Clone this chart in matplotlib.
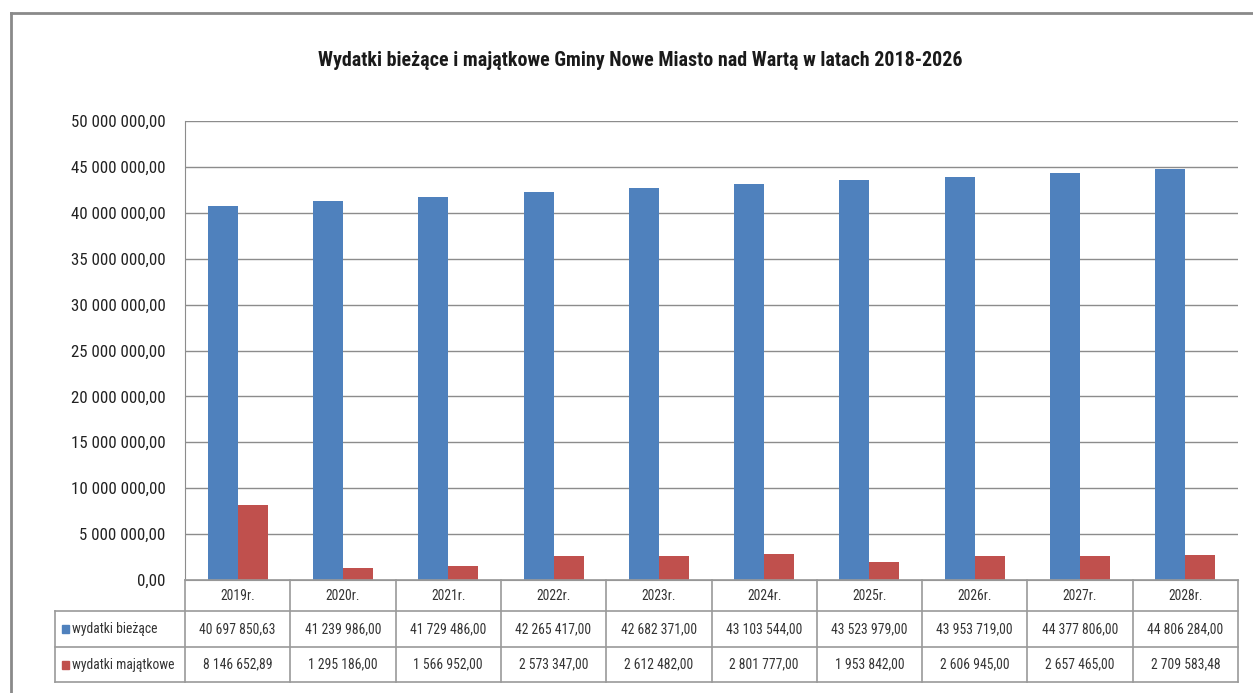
import numpy as np
import matplotlib.pyplot as plt
from matplotlib import font_manager as fm
from matplotlib.lines import Line2D
from matplotlib.patches import Rectangle

years = ['2019r.', '2020r.', '2021r.', '2022r.', '2023r.',
         '2024r.', '2025r.', '2026r.', '2027r.', '2028r.']
biezace = [40697850.63, 41239986.00, 41729486.00, 42265417.00, 42682371.00,
           43103544.00, 43523979.00, 43953719.00, 44377806.00, 44806284.00]
majatkowe = [8146652.89, 1295186.00, 1566952.00, 2573347.00, 2612482.00,
             2801777.00, 1953842.00, 2606945.00, 2657465.00, 2709583.48]
series_names = ['wydatki bieżące', 'wydatki majątkowe']
colors = ['#4F81BD', '#C0504D']
title = 'Wydatki bieżące i majątkowe Gminy Nowe Miasto nad Wartą w latach 2018-2026'

# pick a narrow font if there is one, otherwise Liberation Sans
names = {f.name for f in fm.fontManager.ttflist}
font = 'DejaVu Sans'
for cand in ['Liberation Sans Narrow', 'Roboto Condensed', 'Open Sans Condensed',
             'DejaVu Sans Condensed', 'Liberation Sans']:
    if cand in names:
        font = cand
        break
plt.rcParams['font.family'] = [font, 'DejaVu Sans']

W, H = 1253, 693


def fx(px):
    return px / W


def fy(py):
    return 1 - py / H


def pl(v):
    # polish number format: 1 234 567,89
    return f'{v:,.2f}'.replace(',', ' ').replace('.', ',')


fig = plt.figure(figsize=(W / 100, H / 100), dpi=100)
renderer = fig.canvas.get_renderer()


def fit_size(s, target_px, weight='normal'):
    # font size that makes string s about target_px wide
    t = fig.text(0, 0, s, fontsize=10, fontweight=weight)
    w = t.get_window_extent(renderer).width
    t.remove()
    return 10 * target_px / w


title_fs = fit_size(title, 644, 'bold')
tick_fs = fit_size('50 000 000,00', 93)
tab_fs = fit_size('40 697 850,63', 76)

left, right, top, bottom = 185, 1238, 121, 580
ax = fig.add_axes([fx(left), fy(bottom), fx(right - left), (bottom - top) / H])

x = np.arange(len(years))
bw = 0.285
ax.bar(x - bw / 2, biezace, bw, color=colors[0], zorder=3)
ax.bar(x + bw / 2, majatkowe, bw, color=colors[1], zorder=3)

ax.set_xlim(-0.5, len(years) - 0.5)
ax.set_ylim(0, 50000000)
yt = np.arange(0, 50000001, 5000000)
ax.set_yticks(yt)
ax.set_yticklabels([pl(v) for v in yt], fontsize=tick_fs, color='#222222')
ax.set_xticks([])
ax.yaxis.grid(True, color='#8c8c8c', lw=1)
ax.set_axisbelow(True)
for s in ['top', 'right']:
    ax.spines[s].set_visible(False)
for s in ['left', 'bottom']:
    ax.spines[s].set_color('#8c8c8c')
ax.tick_params(axis='y', length=0, pad=14)

fig.text(fx(640), fy(60), title, ha='center', va='center',
         fontsize=title_fs, fontweight='bold', color='#1a1a1a')

# outer frame
lc = '#8a8a8a'
fig.add_artist(Line2D([fx(11), fx(11)], [fy(13), 0], color=lc, lw=2))
fig.add_artist(Line2D([fx(11), 1], [fy(13), fy(13)], color=lc, lw=2))

# data table under the plot
tc = '#9a9a9a'
rows = [580, 611, 647, 682]
lab_left = 55
colw = (right - left) / len(years)
for i, r in enumerate(rows):
    x0 = left if i == 0 else lab_left
    fig.add_artist(Line2D([fx(x0), fx(right)], [fy(r), fy(r)], color=tc, lw=1.2))
for k in range(len(years) + 1):
    cx = left + k * colw
    fig.add_artist(Line2D([fx(cx), fx(cx)], [fy(rows[0]), fy(rows[-1])], color=tc, lw=1.2))
fig.add_artist(Line2D([fx(lab_left), fx(lab_left)], [fy(rows[1]), fy(rows[-1])], color=tc, lw=1.2))

for k, yr in enumerate(years):
    cx = left + (k + 0.5) * colw
    fig.text(fx(cx), fy((rows[0] + rows[1]) / 2), yr, ha='center', va='center',
             fontsize=tab_fs, color='#333333')
    fig.text(fx(cx), fy((rows[1] + rows[2]) / 2), pl(biezace[k]), ha='center', va='center',
             fontsize=tab_fs, color='#333333')
    fig.text(fx(cx), fy((rows[2] + rows[3]) / 2), pl(majatkowe[k]), ha='center', va='center',
             fontsize=tab_fs, color='#333333')

for j, name in enumerate(series_names):
    yc = (rows[j + 1] + rows[j + 2]) / 2
    fig.add_artist(Rectangle((fx(62), fy(yc + 4)), fx(7), 8 / H, color=colors[j]))
    fig.text(fx(72), fy(yc), name, ha='left', va='center', fontsize=tab_fs, color='#333333')

fig.savefig('out.png', dpi=100)
